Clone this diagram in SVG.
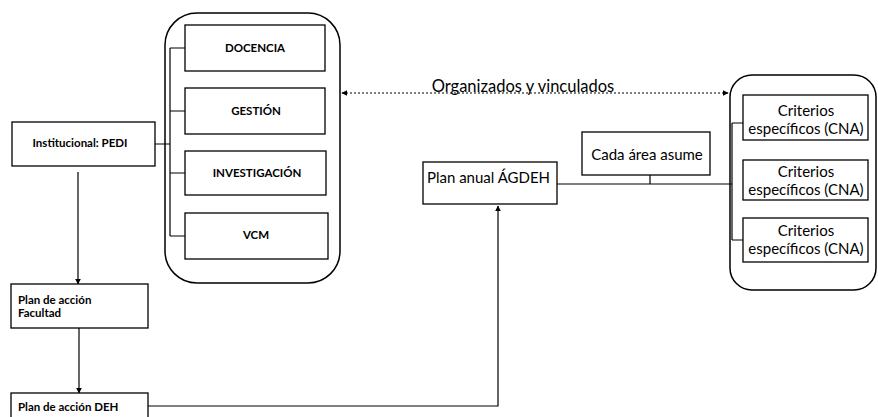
<svg xmlns="http://www.w3.org/2000/svg" width="878" height="417" viewBox="0 0 878 417">
<defs>
<style>
.box{fill:#fff;stroke:#000;stroke-width:1.3}
.cont{fill:none;stroke:#000;stroke-width:1.5}
.ln{fill:none;stroke:#000;stroke-width:1.2}
.dot{fill:none;stroke:#000;stroke-width:1;stroke-dasharray:2 2}
.tb{font-family:Lato,"Liberation Sans",sans-serif;font-weight:bold;font-size:11.5px;fill:#000}
.tr{font-family:Lato,"Liberation Sans",sans-serif;font-size:15px;fill:#000}
.tl{font-family:Lato,"Liberation Sans",sans-serif;font-size:16.5px;fill:#000}
</style>
<marker id="ah" viewBox="0 0 10 10" refX="9" refY="5" markerWidth="6" markerHeight="6" orient="auto-start-reverse" markerUnits="userSpaceOnUse">
<path d="M0,0 L10,5 L0,10 z" fill="#000"/>
</marker>
</defs>
<rect width="878" height="417" fill="#fff"/>

<g id="connectors">
<path class="ln" d="M170,48 V236 M170,48 H185 M170,111 H185 M170,173 H185 M170,236 H185 M155,144 H170"/>
<path class="ln" d="M78,172 V284" marker-end="url(#ah)"/>
<path class="ln" d="M79,328 V393" marker-end="url(#ah)"/>
<path class="ln" d="M148,406 H498 V206" marker-end="url(#ah)"/>
<path class="dot" d="M342,93 H728" marker-start="url(#ah)" marker-end="url(#ah)"/>
<path class="ln" d="M557,184 H732 M650,175 V184 M732,123 V240 M732,123 H743 M732,240 H743"/>
</g>

<g id="container-left">
<rect class="cont" x="165" y="13" width="175" height="270" rx="32" ry="32"/>
</g>
<g id="container-right">
<rect class="cont" x="730" y="75" width="146" height="215" rx="22" ry="22"/>
</g>

<g id="docencia">
<rect class="box" x="185" y="25" width="140" height="46"/>
<text class="tb" x="255" y="52" text-anchor="middle">DOCENCIA</text>
</g>
<g id="gestion">
<rect class="box" x="185" y="88" width="140" height="46"/>
<text class="tb" x="256" y="115" text-anchor="middle">GESTIÓN</text>
</g>
<g id="investigacion">
<rect class="box" x="185" y="151" width="141" height="44"/>
<text class="tb" x="257" y="177" text-anchor="middle">INVESTIGACIÓN</text>
</g>
<g id="vcm">
<rect class="box" x="185" y="213" width="143" height="46"/>
<text class="tb" x="256" y="239" text-anchor="middle">VCM</text>
</g>

<g id="institucional">
<rect class="box" x="12" y="122" width="143" height="44"/>
<text class="tb" x="80" y="147" text-anchor="middle">Institucional: PEDI</text>
</g>
<g id="plan-facultad">
<rect class="box" x="11" y="284" width="137" height="44"/>
<text class="tb" x="18" y="304">Plan de acción</text>
<text class="tb" x="18" y="317">Facultad</text>
</g>
<g id="plan-deh">
<rect class="box" x="11" y="393" width="137" height="30"/>
<text class="tb" x="18" y="411">Plan de acción DEH</text>
</g>

<g id="plan-anual">
<rect class="box" x="423" y="162" width="134" height="42"/>
<text class="tr" x="427" y="183">Plan anual ÁGDEH</text>
</g>
<g id="cada-area">
<rect class="box" x="582" y="132" width="128" height="43"/>
<text class="tr" x="647" y="160" text-anchor="middle">Cada área asume</text>
</g>

<g id="label-organizados">
<text class="tl" x="523" y="92" text-anchor="middle">Organizados y vinculados</text>
</g>

<g id="criterios-1">
<rect class="box" x="743" y="95" width="125" height="45"/>
<text class="tr" x="806" y="116" text-anchor="middle">Criterios</text>
<text class="tr" x="806" y="134" text-anchor="middle">específicos (CNA)</text>
</g>
<g id="criterios-2">
<rect class="box" x="743" y="160" width="125" height="40"/>
<text class="tr" x="806" y="177" text-anchor="middle">Criterios</text>
<text class="tr" x="806" y="195" text-anchor="middle">específicos (CNA)</text>
</g>
<g id="criterios-3">
<rect class="box" x="743" y="218" width="125" height="44"/>
<text class="tr" x="806" y="236" text-anchor="middle">Criterios</text>
<text class="tr" x="806" y="254" text-anchor="middle">específicos (CNA)</text>
</g>
</svg>
